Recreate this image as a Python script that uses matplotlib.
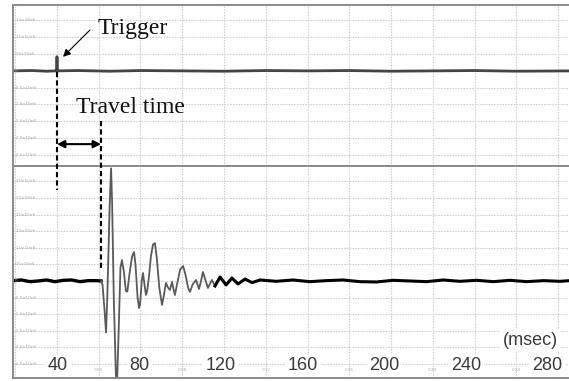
import matplotlib.pyplot as plt
import matplotlib.transforms as mtransforms
from matplotlib.ticker import MultipleLocator, FixedLocator

# time in seconds, amplitude in units of 1e6
# trigger channel (top panel)
trig_t = [-0.001, 0.008, 0.015, 0.0199, 0.0200, 0.0201, 0.030, 0.045, 0.060, 0.080, 0.100,
          0.120, 0.140, 0.160, 0.180, 0.200, 0.220, 0.240, 0.268]
trig_v = [0.0, 0.01, -0.01, 0.0, 0.42, 0.0, 0.01, -0.01, 0.01, 0.0, -0.01,
          0.01, 0.0, 0.01, -0.01, 0.0, 0.01, -0.01, 0.0]

# receiver channel (bottom panel): quiet part before arrival
pre_t = [-0.001, 0.003, 0.007, 0.011, 0.015, 0.019, 0.023, 0.027, 0.031, 0.035, 0.039, 0.0411]
pre_v = [0.01, 0.03, -0.02, 0.0, 0.03, -0.02, 0.02, 0.03, -0.02, 0.01, 0.01, 0.0]

# arriving wave
wave_t = [0.0411, 0.0418, 0.0428, 0.0435, 0.0441, 0.0452, 0.0459, 0.0464, 0.0472, 0.0482,
          0.0487, 0.0494, 0.0504, 0.0511, 0.0520, 0.0530, 0.0537, 0.0547, 0.0560, 0.0569,
          0.0576, 0.0586, 0.0593, 0.0598, 0.0606, 0.0612, 0.0619, 0.0626, 0.0632, 0.0640,
          0.0650, 0.0660, 0.0669, 0.0678, 0.0690, 0.0703, 0.0710, 0.0722, 0.0732, 0.0741,
          0.0751, 0.0760, 0.0765, 0.0775, 0.0790, 0.0804, 0.0815, 0.0828, 0.0837, 0.0850,
          0.0866, 0.0880, 0.0890, 0.0899, 0.0910, 0.0923, 0.0942, 0.0957]
wave_v = [0.0, -0.1, -0.9, -1.55, -0.5, 2.2, 3.39, 2.4, -0.5, -2.8,
          -3.2, -1.8, 0.4, 0.63, 0.3, -0.3, -0.32, 0.2, 0.75, 0.87,
          0.5, -0.5, -0.81, -0.7, 0.0, 0.24, -0.1, -0.42, -0.3, 0.1,
          0.75, 1.1, 1.14, 0.7, -0.2, -0.72, -0.5, -0.06, -0.2, -0.27,
          -0.03, -0.3, -0.42, -0.1, 0.35, 0.45, 0.2, -0.2, -0.33, -0.1,
          0.03, -0.24, 0.0, 0.27, 0.05, -0.21, 0.03, -0.15]

# decaying tail and quiet part after
tail_t = [0.0957, 0.0981, 0.1010, 0.1038, 0.1067, 0.1101, 0.1134, 0.1172, 0.125, 0.133,
          0.141, 0.149, 0.157, 0.165, 0.173, 0.181, 0.189, 0.197, 0.205, 0.213,
          0.221, 0.229, 0.237, 0.245, 0.253, 0.261, 0.268]
tail_v = [-0.15, 0.12, -0.12, 0.09, -0.09, 0.06, -0.05, 0.03, -0.01, 0.03,
          -0.02, 0.01, 0.03, -0.02, -0.03, 0.02, 0.0, -0.02, 0.03, -0.01,
          0.02, -0.02, 0.02, -0.02, 0.01, -0.01, 0.02]

trigger_time = 0.0200
arrival_time = 0.0411

top_grid = [1.5, 1.0, 0.5, 0.0, -0.5, -1.0, -1.5, -2.0, -2.5]
bot_grid = [3.0, 2.5, 2.0, 1.5, 1.0, 0.5, 0.0, -0.5, -1.0, -1.5, -2.0, -2.5]
sec_ticks = [0.04, 0.08, 0.12, 0.16, 0.20, 0.24]
ms_labels = [40, 80, 120, 160, 200, 240, 280]

X0, X1 = -0.00108, 0.2681

fig = plt.figure(figsize=(5.69, 3.81), dpi=100)
ax = fig.add_axes([0.0228, 0.5643, 0.9877, 0.4226])
bx = fig.add_axes([0.0228, 0.00787, 0.9877, 0.5564])

for a, grid, lim in ((ax, top_grid, (-2.83, 1.96)), (bx, bot_grid, (-2.92, 3.46))):
    a.set_xlim(X0, X1)
    a.set_ylim(*lim)
    a.xaxis.set_major_locator(MultipleLocator(0.02))
    a.yaxis.set_major_locator(FixedLocator(grid))
    a.tick_params(length=0, labelleft=False, labelbottom=False)
    a.grid(color='#d2d2d2', ls=(0, (1.5, 1)), lw=0.8)
    for s in a.spines.values():
        s.set_color('#8a8a8a')
        s.set_linewidth(1.4)
    ytr = mtransforms.blended_transform_factory(a.transAxes, a.transData)
    for v in grid:
        if v == 0:
            lab = '0'
        else:
            lab = '%.1fx10e6' % v
        a.text(0.004, v, lab, transform=ytr, fontsize=3.2, color='#a8a8a8',
               va='center', ha='left', clip_on=True)

ax.plot(trig_t, trig_v, color='#444444', lw=2.0)

bx.plot(pre_t, pre_v, color='black', lw=2.4)
bx.plot(wave_t, wave_v, color='#5a5a5a', lw=1.3)
bx.plot(tail_t, tail_v, color='black', lw=2.2)

# faint original seconds labels and pasted msec labels
btr = mtransforms.blended_transform_factory(bx.transData, bx.transAxes)
for t in sec_ticks:
    bx.text(t, 0.04, '%.2f' % t, transform=btr, fontsize=3, color='#aaaaaa',
            ha='center', va='center')
for ms in ms_labels:
    t = 0.02048 + (ms - 40) * 0.000977
    bx.text(t, 0.057, str(ms), transform=btr, fontsize=13, color='#3a3a3a',
            family='Liberation Sans', ha='center', va='center', zorder=5,
            bbox=dict(fc='white', ec='none', pad=2))
bx.text(0.2466, 0.179, '(msec)', transform=btr, fontsize=13, color='#3a3a3a',
        family='Liberation Sans', ha='center', va='center', zorder=5,
        bbox=dict(fc='white', ec='none', pad=1.5))

# annotation layer spanning both panels
ov = fig.add_axes([0.0228, 0.00787, 0.9877, 0.979])
ov.set_xlim(X0, X1)
ov.set_ylim(0, 1)
ov.axis('off')

ov.plot([trigger_time, trigger_time], [0.820, 0.504], color='black', lw=1.5, ls=(0, (2.5, 1.5)))
ov.plot([arrival_time, arrival_time], [0.689, 0.295], color='black', lw=1.5, ls=(0, (2.5, 1.5)))
ov.annotate('', xy=(arrival_time, 0.627), xytext=(trigger_time, 0.627),
            arrowprops=dict(arrowstyle='<|-|>', color='black', lw=1.5,
                            mutation_scale=11, shrinkA=0, shrinkB=0))
ov.text(0.0554, 0.724, 'Travel time', fontsize=17, family='Liberation Serif',
        ha='center', va='center', color='#111111')
ov.text(0.0564, 0.938, 'Trigger', fontsize=17, family='Liberation Serif',
        ha='center', va='center', color='#111111')
ov.annotate('', xy=(0.0229, 0.861), xytext=(0.0358, 0.933),
            arrowprops=dict(arrowstyle='-|>', color='black', lw=0.8,
                            mutation_scale=11, shrinkA=0, shrinkB=0))

fig.savefig('out.png', dpi=100)
